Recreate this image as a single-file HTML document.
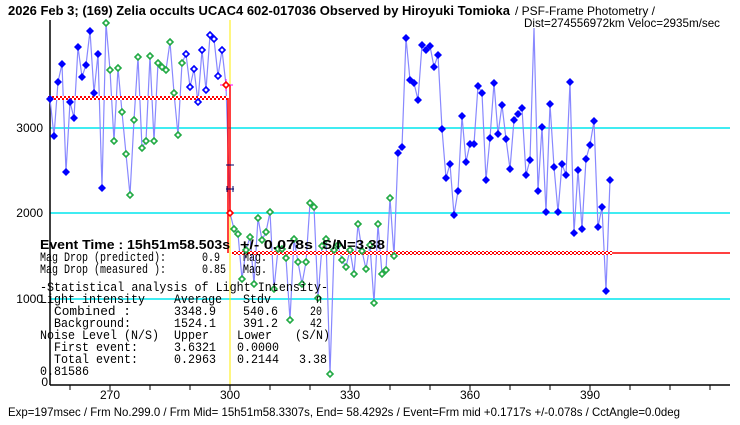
<!DOCTYPE html>
<html><head><meta charset="utf-8"><style>
html,body{margin:0;padding:0;background:#fff;width:740px;height:425px;overflow:hidden}
svg{display:block}
.m{font-family:"Liberation Mono",monospace;font-size:13px;fill:#000}
.b{font-family:"Liberation Sans",sans-serif;font-weight:bold;font-size:13px;fill:#000}
.n{font-family:"Liberation Sans",sans-serif;font-size:12px;fill:#000}
</style></head><body>
<svg width="740" height="425" viewBox="0 0 740 425" xmlns="http://www.w3.org/2000/svg">
<defs>
<pattern id="chk" width="4" height="4" patternUnits="userSpaceOnUse"><rect width="4" height="4" fill="#fff"/><rect width="2" height="2" fill="#f00"/><rect x="2" y="2" width="2" height="2" fill="#f00"/></pattern>
<path id="bf" d="M0,-4L4,0L0,4L-4,0Z" fill="#0000ff"/>
<path id="gh" d="M0,-3L3,0L0,3L-3,0Z" fill="#fff" stroke="#22aa44" stroke-width="1.6"/>
<path id="bh" d="M0,-3L3,0L0,3L-3,0Z" fill="#fff" stroke="#0000ff" stroke-width="1.6"/>
</defs>
<g stroke="#00e5ee" stroke-width="1.5">
<line x1="50" y1="128" x2="730" y2="128"/><line x1="50" y1="213" x2="730" y2="213"/><line x1="50" y1="299" x2="730" y2="299"/>
</g>
<line x1="230" y1="20" x2="230" y2="385" stroke="#ffee00" stroke-width="1"/>
<line x1="50" y1="20" x2="50" y2="385" stroke="#000" stroke-width="1.5"/>
<line x1="50" y1="385" x2="730" y2="385" stroke="#000" stroke-width="1.5"/>
<g stroke="#000" stroke-width="1">
<line x1="70" y1="385" x2="70" y2="390"/><line x1="110" y1="385" x2="110" y2="390"/><line x1="150" y1="385" x2="150" y2="390"/><line x1="190" y1="385" x2="190" y2="390"/><line x1="230" y1="385" x2="230" y2="390"/><line x1="270" y1="385" x2="270" y2="390"/><line x1="310" y1="385" x2="310" y2="390"/><line x1="350" y1="385" x2="350" y2="390"/><line x1="390" y1="385" x2="390" y2="390"/><line x1="430" y1="385" x2="430" y2="390"/><line x1="470" y1="385" x2="470" y2="390"/><line x1="510" y1="385" x2="510" y2="390"/><line x1="550" y1="385" x2="550" y2="390"/><line x1="590" y1="385" x2="590" y2="390"/><line x1="630" y1="385" x2="630" y2="390"/><line x1="670" y1="385" x2="670" y2="390"/><line x1="710" y1="385" x2="710" y2="390"/>
</g>
<g class="n" text-anchor="middle">
<text x="110" y="399">270</text><text x="230" y="399">300</text><text x="350" y="399">330</text><text x="470" y="399">360</text><text x="590" y="399">390</text>
</g>
<g class="n" text-anchor="end">
<text x="43" y="132">3000</text><text x="43" y="217">2000</text><text x="43" y="303">1000</text><text x="48" y="386">0</text>
</g>
<polyline fill="none" stroke="#8888ff" stroke-width="1.2" points="50,99 54,136 58,82 62,64 66,172 70,102 74,118 78,47 82,77 86,65 90,31 94,93 98,54 102,188 106,23 110,70 114,141 118,68 122,112 126,154 130,195 134,120 138,57 142,148 146,141 150,56 154,141 158,63 162,67 166,70 170,42 174,93 178,135 182,63 186,54 190,87 194,69 198,102 202,50 206,90 210,35 214,39 218,76 222,50 226,85 230,213 234,229 238,234 242,279 246,250 250,237 254,284 258,218 262,240 266,232 270,212 274,289 278,249 282,249 286,258 290,320 294,239 298,262 302,284 306,262 310,203 314,207 318,298 322,246 326,239 330,374 334,250 338,245 342,260 346,267 350,250 354,274 358,224 362,251 366,269 370,245 374,303 378,224 382,274 386,270 390,198 394,256 398,153 402,147 406,38 410,80 414,83 418,100 422,45 426,50 430,46 434,67 438,55 442,129 446,178 450,164 454,215 458,191 462,116 466,162 470,144 474,144 478,86 482,93 486,180 490,138 494,83 498,134 502,105 506,139 510,169 514,120 518,114 522,108 526,175 530,160 534,28 538,191 542,127 546,212 550,104 554,167 558,212 562,164 566,175 570,82 574,233 578,170 582,229 586,159 590,145 594,121 598,227 602,207 606,291 610,180"/>
<rect x="48" y="96" width="180" height="4" fill="url(#chk)"/>
<line x1="228" y1="98" x2="228" y2="253" stroke="#f00" stroke-width="1.5"/>
<rect x="232" y="251" width="380" height="4" fill="url(#chk)"/>
<line x1="612" y1="253" x2="730" y2="253" stroke="#f00" stroke-width="1.5"/>
<line x1="230" y1="85" x2="230" y2="213" stroke="#f00" stroke-width="1.5"/>
<g stroke="#000066" stroke-width="1"><line x1="226" y1="165" x2="234" y2="165"/><line x1="226" y1="189" x2="234" y2="189"/><line x1="227" y1="186" x2="227" y2="192"/><line x1="233" y1="186" x2="233" y2="192"/></g>
<line x1="220" y1="85" x2="233" y2="85" stroke="#ff00ff" stroke-width="1"/>
<line x1="226" y1="79" x2="226" y2="91" stroke="#ff00ff" stroke-width="1"/>
<g>
<use href="#bf" x="50" y="99"/><use href="#bf" x="54" y="136"/><use href="#bf" x="58" y="82"/><use href="#bf" x="62" y="64"/><use href="#bf" x="66" y="172"/><use href="#bf" x="70" y="102"/><use href="#bf" x="74" y="118"/><use href="#bf" x="78" y="47"/><use href="#bf" x="82" y="77"/><use href="#bf" x="86" y="65"/><use href="#bf" x="90" y="31"/><use href="#bf" x="94" y="93"/><use href="#bf" x="98" y="54"/><use href="#bf" x="102" y="188"/>
<use href="#gh" x="106" y="23"/><use href="#gh" x="110" y="70"/><use href="#gh" x="114" y="141"/><use href="#gh" x="118" y="68"/><use href="#gh" x="122" y="112"/><use href="#gh" x="126" y="154"/><use href="#gh" x="130" y="195"/><use href="#gh" x="134" y="120"/><use href="#gh" x="138" y="57"/><use href="#gh" x="142" y="148"/><use href="#gh" x="146" y="141"/><use href="#gh" x="150" y="56"/><use href="#gh" x="154" y="141"/><use href="#gh" x="158" y="63"/><use href="#gh" x="162" y="67"/><use href="#gh" x="166" y="70"/><use href="#gh" x="170" y="42"/><use href="#gh" x="174" y="93"/><use href="#gh" x="178" y="135"/><use href="#gh" x="182" y="63"/>
<use href="#bh" x="186" y="54"/><use href="#bh" x="190" y="87"/><use href="#bh" x="194" y="69"/><use href="#bh" x="198" y="102"/><use href="#bh" x="202" y="50"/><use href="#bh" x="206" y="90"/><use href="#bh" x="210" y="35"/><use href="#bh" x="214" y="39"/><use href="#bh" x="218" y="76"/><use href="#bh" x="222" y="50"/>
<path d="M226,82L229,85L226,88L223,85Z" fill="#fff" stroke="#f00" stroke-width="1.6"/>
<path d="M230,210L233,213L230,216L227,213Z" fill="#fff" stroke="#f00" stroke-width="1.6"/>
<use href="#gh" x="234" y="229"/><use href="#gh" x="238" y="234"/><use href="#gh" x="242" y="279"/><use href="#gh" x="246" y="250"/><use href="#gh" x="250" y="237"/><use href="#gh" x="254" y="284"/><use href="#gh" x="258" y="218"/><use href="#gh" x="262" y="240"/><use href="#gh" x="266" y="232"/><use href="#gh" x="270" y="212"/><use href="#gh" x="274" y="289"/><use href="#gh" x="278" y="249"/><use href="#gh" x="282" y="249"/><use href="#gh" x="286" y="258"/><use href="#gh" x="290" y="320"/><use href="#gh" x="294" y="239"/><use href="#gh" x="298" y="262"/><use href="#gh" x="302" y="284"/><use href="#gh" x="306" y="262"/><use href="#gh" x="310" y="203"/><use href="#gh" x="314" y="207"/><use href="#gh" x="318" y="298"/><use href="#gh" x="322" y="246"/><use href="#gh" x="326" y="239"/><use href="#gh" x="330" y="374"/><use href="#gh" x="334" y="250"/><use href="#gh" x="338" y="245"/><use href="#gh" x="342" y="260"/><use href="#gh" x="346" y="267"/><use href="#gh" x="350" y="250"/><use href="#gh" x="354" y="274"/><use href="#gh" x="358" y="224"/><use href="#gh" x="362" y="251"/><use href="#gh" x="366" y="269"/><use href="#gh" x="370" y="245"/><use href="#gh" x="374" y="303"/><use href="#gh" x="378" y="224"/><use href="#gh" x="382" y="274"/><use href="#gh" x="386" y="270"/><use href="#gh" x="390" y="198"/><use href="#gh" x="394" y="256"/>
<use href="#bf" x="398" y="153"/><use href="#bf" x="402" y="147"/><use href="#bf" x="406" y="38"/><use href="#bf" x="410" y="80"/><use href="#bf" x="414" y="83"/><use href="#bf" x="418" y="100"/><use href="#bf" x="422" y="45"/><use href="#bf" x="426" y="50"/><use href="#bf" x="430" y="46"/><use href="#bf" x="434" y="67"/><use href="#bf" x="438" y="55"/><use href="#bf" x="442" y="129"/><use href="#bf" x="446" y="178"/><use href="#bf" x="450" y="164"/><use href="#bf" x="454" y="215"/><use href="#bf" x="458" y="191"/><use href="#bf" x="462" y="116"/><use href="#bf" x="466" y="162"/><use href="#bf" x="470" y="144"/><use href="#bf" x="474" y="144"/><use href="#bf" x="478" y="86"/><use href="#bf" x="482" y="93"/><use href="#bf" x="486" y="180"/><use href="#bf" x="490" y="138"/><use href="#bf" x="494" y="83"/><use href="#bf" x="498" y="134"/><use href="#bf" x="502" y="105"/><use href="#bf" x="506" y="139"/><use href="#bf" x="510" y="169"/><use href="#bf" x="514" y="120"/><use href="#bf" x="518" y="114"/><use href="#bf" x="522" y="108"/><use href="#bf" x="526" y="175"/><use href="#bf" x="530" y="160"/><use href="#bf" x="538" y="191"/><use href="#bf" x="542" y="127"/><use href="#bf" x="546" y="212"/><use href="#bf" x="550" y="104"/><use href="#bf" x="554" y="167"/><use href="#bf" x="558" y="212"/><use href="#bf" x="562" y="164"/><use href="#bf" x="566" y="175"/><use href="#bf" x="570" y="82"/><use href="#bf" x="574" y="233"/><use href="#bf" x="578" y="170"/><use href="#bf" x="582" y="229"/><use href="#bf" x="586" y="159"/><use href="#bf" x="590" y="145"/><use href="#bf" x="594" y="121"/><use href="#bf" x="598" y="227"/><use href="#bf" x="602" y="207"/><use href="#bf" x="606" y="291"/><use href="#bf" x="610" y="180"/>
</g>
<text class="b" x="8" y="15" textLength="502" lengthAdjust="spacingAndGlyphs">2026 Feb 3; (169) Zelia occults UCAC4 602-017036 Observed by Hiroyuki Tomioka</text>
<text class="n" x="515" y="15" textLength="140" lengthAdjust="spacingAndGlyphs">/ PSF-Frame Photometry /</text>
<text class="n" x="524" y="27" textLength="196" lengthAdjust="spacingAndGlyphs">Dist=274556972km Veloc=2935m/sec</text>
<text class="b" x="40" y="249" textLength="190" lengthAdjust="spacingAndGlyphs">Event Time : 15h51m58.503s</text>
<text class="b" x="240" y="249" textLength="73" lengthAdjust="spacingAndGlyphs">+/- 0.078s</text>
<text class="b" x="322" y="249" textLength="63" lengthAdjust="spacingAndGlyphs">S/N=3.38</text>
<g class="m" lengthAdjust="spacingAndGlyphs">
<text x="40" y="261" textLength="126" lengthAdjust="spacingAndGlyphs">Mag Drop (predicted):</text><text x="202" y="261" textLength="18" lengthAdjust="spacingAndGlyphs">0.9</text><text x="243" y="261" textLength="24" lengthAdjust="spacingAndGlyphs">Mag.</text>
<text x="40" y="273" textLength="126" lengthAdjust="spacingAndGlyphs">Mag Drop (measured ):</text><text x="202" y="273" textLength="24" lengthAdjust="spacingAndGlyphs">0.85</text><text x="243" y="273" textLength="24" lengthAdjust="spacingAndGlyphs">Mag.</text>
<text x="40" y="291" textLength="288" lengthAdjust="spacingAndGlyphs">-Statistical analysis of Light Intensity-</text>
<text x="40" y="303" textLength="105" lengthAdjust="spacingAndGlyphs">Light intensity</text><text x="174" y="303" textLength="48" lengthAdjust="spacingAndGlyphs">Average</text><text x="243" y="303" textLength="28" lengthAdjust="spacingAndGlyphs">Stdv</text><text x="316" y="303" textLength="6" lengthAdjust="spacingAndGlyphs">n</text>
<text x="54" y="315" textLength="77" lengthAdjust="spacingAndGlyphs">Combined  :</text><text x="174" y="315" textLength="42" lengthAdjust="spacingAndGlyphs">3348.9</text><text x="243" y="315" textLength="35" lengthAdjust="spacingAndGlyphs">540.6</text><text x="310" y="315" textLength="12" lengthAdjust="spacingAndGlyphs">20</text>
<text x="54" y="327" textLength="77" lengthAdjust="spacingAndGlyphs">Background:</text><text x="174" y="327" textLength="42" lengthAdjust="spacingAndGlyphs">1524.1</text><text x="243" y="327" textLength="35" lengthAdjust="spacingAndGlyphs">391.2</text><text x="310" y="327" textLength="12" lengthAdjust="spacingAndGlyphs">42</text>
<text x="40" y="339" textLength="119" lengthAdjust="spacingAndGlyphs">Noise Level (N/S)</text><text x="174" y="339" textLength="35" lengthAdjust="spacingAndGlyphs">Upper</text><text x="237" y="339" textLength="35" lengthAdjust="spacingAndGlyphs">Lower</text><text x="295" y="339" textLength="35" lengthAdjust="spacingAndGlyphs">(S/N)</text>
<text x="54" y="351" textLength="84" lengthAdjust="spacingAndGlyphs">First event:</text><text x="174" y="351" textLength="42" lengthAdjust="spacingAndGlyphs">3.6321</text><text x="237" y="351" textLength="42" lengthAdjust="spacingAndGlyphs">0.0000</text>
<text x="54" y="363" textLength="84" lengthAdjust="spacingAndGlyphs">Total event:</text><text x="174" y="363" textLength="42" lengthAdjust="spacingAndGlyphs">0.2963</text><text x="237" y="363" textLength="42" lengthAdjust="spacingAndGlyphs">0.2144</text><text x="299" y="363" textLength="28" lengthAdjust="spacingAndGlyphs">3.38</text>
<text x="40" y="375" textLength="49" lengthAdjust="spacingAndGlyphs">0.81586</text>
</g>
<text class="n" x="8" y="416" textLength="672" lengthAdjust="spacingAndGlyphs">Exp=197msec / Frm No.299.0 / Frm Mid= 15h51m58.3307s,  End= 58.4292s / Event=Frm mid +0.1717s +/-0.078s / CctAngle=0.0deg</text>
</svg>
</body></html>
